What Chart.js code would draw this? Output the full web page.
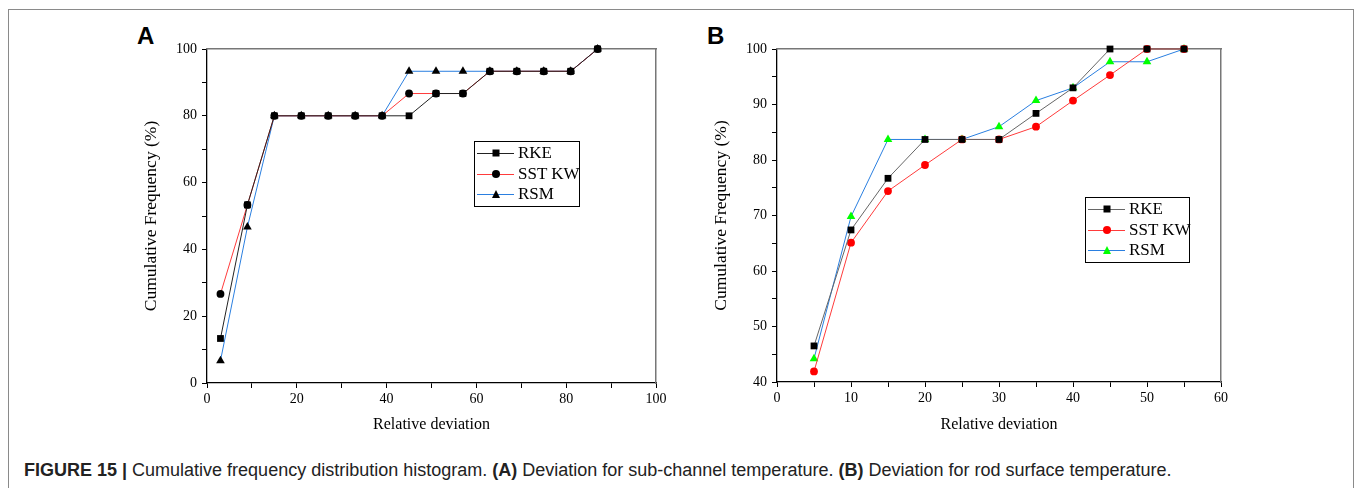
<!DOCTYPE html>
<html lang="en">
<head>
  <meta charset="UTF-8">
  <title>Figure 15</title>
  <script src="https://cdn.jsdelivr.net/npm/chart.js"></script>
</head>
<style>
  body { margin: 0; background: #fff; width: 1356px; height: 488px; position: relative; overflow: hidden; }
  #frame { position: absolute; left: 8px; top: 9px; width: 1344px; height: 500px; border: 1px solid #8a8a8a; }
  .panel { position: absolute; top: 18px; width: 545px; height: 422px; }
  .tag { position: absolute; font: bold 24px "Liberation Sans", Arial, sans-serif; color: #000; }
  .legend { position: absolute; border: 1px solid #000; background: #fff; padding: 1px 0; font: 17px "Liberation Serif", "Times New Roman", serif; white-space: nowrap; }
  .legend .row { display: flex; align-items: center; height: 20.5px; }
  .legend .sym { position: relative; flex: none; width: 37px; height: 20px; margin: 0 4px 0 2px; }
  .legend .ln { position: absolute; left: 0; right: 0; top: 10px; border-top: 1px solid; }
  .legend .mk { position: absolute; left: 50%; top: 10px; transform: translate(-50%, -50%); }
  #caption { position: absolute; left: 24px; top: 460px; font: 18px "Liberation Sans", Arial, sans-serif; color: #222; white-space: nowrap; }
</style>
<body>
  <div id="frame"></div>
  <div class="tag" style="left:137px; top:22px;">A</div>
  <div class="tag" style="left:707px; top:22px;">B</div>
  <div class="panel" style="left:130px;"><canvas id="chartA"></canvas></div>
  <div class="panel" style="left:700px;"><canvas id="chartB"></canvas></div>
  <div class="legend" id="legendA" style="left:474px; top:141px; width:104px;"></div>
  <div class="legend" id="legendB" style="left:1085px; top:197px; width:103px;"></div>
  <div id="caption"><b>FIGURE 15 |</b> Cumulative frequency distribution histogram. <b>(A)</b> Deviation for sub-channel temperature. <b>(B)</b> Deviation for rod surface temperature.</div>
<script>
  // panel A: sub-channel temperature
  const xA = [3, 9, 15, 21, 27, 33, 39, 45, 51, 57, 63, 69, 75, 81, 87];
  const rkeA = [13.33, 53.33, 80, 80, 80, 80, 80, 80, 86.67, 86.67, 93.33, 93.33, 93.33, 93.33, 100];
  const sstA = [26.67, 53.33, 80, 80, 80, 80, 80, 86.67, 86.67, 86.67, 93.33, 93.33, 93.33, 93.33, 100];
  const rsmA = [6.67, 46.67, 80, 80, 80, 80, 80, 93.33, 93.33, 93.33, 93.33, 93.33, 93.33, 93.33, 100];

  // panel B: rod surface temperature
  const xB = [5, 10, 15, 20, 25, 30, 35, 40, 45, 50, 55];
  const rkeB = [46.5, 67.4, 76.7, 83.7, 83.7, 83.7, 88.4, 93.0, 100, 100, 100];
  const sstB = [41.9, 65.1, 74.4, 79.1, 83.7, 83.7, 86.0, 90.7, 95.3, 100, 100];
  const rsmB = [44.2, 69.8, 83.7, 83.7, 83.7, 86.0, 90.7, 93.0, 97.7, 97.7, 100];

  const names = ['RKE', 'SST KW', 'RSM'];
  const shapes = ['rect', 'circle', 'triangle'];
  const radii = [4.8, 3.9, 5];

  const serif = '"Liberation Serif", "Times New Roman", serif';

  function pts(xs, ys) {
    return xs.map((x, i) => ({ x: x, y: ys[i] }));
  }

  function makeSets(xs, series, lineColors, markColors) {
    return series.map((ys, i) => ({
      label: names[i],
      data: pts(xs, ys),
      showLine: true,
      borderColor: lineColors[i],
      borderWidth: 1,
      pointStyle: shapes[i],
      pointRadius: radii[i],
      pointBackgroundColor: markColors[i],
      pointBorderColor: markColors[i],
      pointBorderWidth: 0,
      clip: false
    }));
  }

  function axis(min, max, step, labelEvery, title, opts) {
    return Object.assign({
      type: 'linear',
      min: min, max: max,
      title: { display: true, text: title, color: '#000', font: { family: serif, size: 16 } },
      grid: { drawOnChartArea: false, tickLength: 5, color: '#000', tickColor: '#000' },
      border: { display: true, color: '#000', width: 1.3 },
      ticks: {
        stepSize: step, autoSkip: false, maxRotation: 0, color: '#000',
        font: { family: serif, size: 14 },
        callback: v => (Math.round(v) % labelEvery === 0 ? v : '')
      }
    }, opts);
  }

  function frameAxis(pos) {
    return {
      type: 'linear', position: pos, display: true,
      grid: { display: false, drawTicks: false },
      border: { display: true, color: '#777', width: 1.5 },
      ticks: { display: false },
      afterFit: s => { if (pos === 'top') s.height = 0; else s.width = 0; }
    };
  }

  function build(id, sets, xr, yr, xAxisH, pad) {
    const x = axis(xr[0], xr[1], xr[2], xr[3], 'Relative deviation', {
      position: 'bottom',
      afterFit: s => { s.height = xAxisH; }
    });
    x.ticks.padding = 3;
    x.title.padding = { top: 0, bottom: 6 };
    const y = axis(yr[0], yr[1], yr[2], yr[3], 'Cumulative Frequency (%)', {
      position: 'left',
      afterFit: s => { s.width = 77; }
    });
    y.ticks.padding = 5;
    y.title.font = { family: serif, size: 17.5 };
    y.title.padding = { top: 11, bottom: 0 };
    return new Chart(document.getElementById(id), {
      type: 'scatter',
      data: { datasets: sets },
      options: {
        responsive: false,
        animation: false,
        layout: { padding: pad },
        plugins: { legend: { display: false }, tooltip: { enabled: false } },
        scales: { x: x, y: y, xTop: frameAxis('top'), yRight: frameAxis('right') }
      }
    });
  }

  function sizeCanvas(id) {
    const c = document.getElementById(id);
    c.width = 545; c.height = 422;
    c.style.width = '545px'; c.style.height = '422px';
  }
  sizeCanvas('chartA');
  sizeCanvas('chartB');

  const chartA = build('chartA',
    makeSets(xA, [rkeA, sstA, rsmA], ['#222222', '#ff3b3b', '#2a7fe0'], ['#000', '#000', '#000']),
    [0, 100, 10, 20], [0, 100, 10, 20], 57, { top: 31, right: 19, left: 0, bottom: 0 });

  const chartB = build('chartB',
    makeSets(xB, [rkeB, sstB, rsmB], ['#666666', '#ff3b3b', '#2a7fe0'], ['#000', '#ff0000', '#00ff00']),
    [0, 60, 5, 10], [40, 100, 5, 10], 58, { top: 31, right: 24, left: 0, bottom: 0 });

  // legends built from the datasets
  function legend(chart, boxId) {
    const box = document.getElementById(boxId);
    chart.data.datasets.forEach(ds => {
      const row = document.createElement('div');
      row.className = 'row';
      const sym = document.createElement('div');
      sym.className = 'sym';
      const ln = document.createElement('div');
      ln.className = 'ln';
      ln.style.borderColor = ds.borderColor;
      const mk = document.createElement('div');
      mk.className = 'mk';
      const c = ds.pointBackgroundColor;
      if (ds.pointStyle === 'rect') {
        mk.style.width = '7px'; mk.style.height = '7px'; mk.style.background = c;
      } else if (ds.pointStyle === 'circle') {
        mk.style.width = '8px'; mk.style.height = '8px'; mk.style.borderRadius = '50%'; mk.style.background = c;
      } else {
        mk.style.width = '0'; mk.style.height = '0';
        mk.style.borderLeft = '4.5px solid transparent';
        mk.style.borderRight = '4.5px solid transparent';
        mk.style.borderBottom = '8px solid ' + c;
      }
      sym.appendChild(ln);
      sym.appendChild(mk);
      const txt = document.createElement('span');
      txt.textContent = ds.label;
      row.appendChild(sym);
      row.appendChild(txt);
      box.appendChild(row);
    });
  }
  legend(chartA, 'legendA');
  legend(chartB, 'legendB');
</script>
</body>
</html>
